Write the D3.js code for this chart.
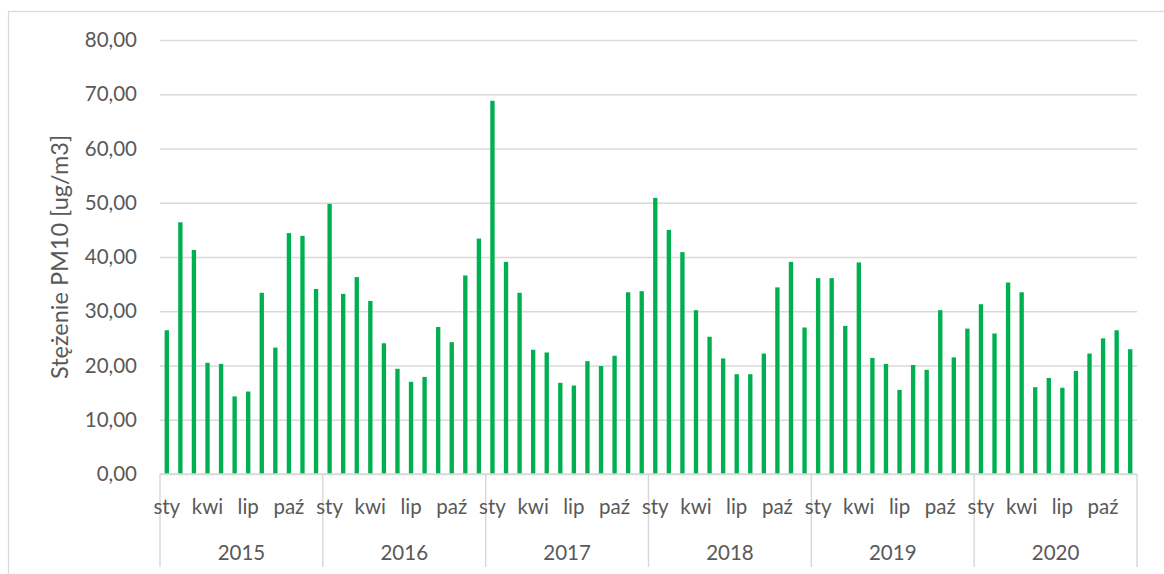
<!DOCTYPE html>
<html>
<head>
<meta charset="utf-8">
<script src="https://cdn.jsdelivr.net/npm/d3@7"></script>
<style>
  body { margin: 0; background: #fff; }
  text { font-family: Lato, "Open Sans", sans-serif; fill: #595959; }
</style>
</head>
<body>
<div id="chart"></div>
<script>
// monthly PM10, 2015..2020
const years = ["2015", "2016", "2017", "2018", "2019", "2020"]
const monthNames = ["sty", "lut", "mar", "kwi", "maj", "cze", "lip", "sie", "wrz", "paź", "lis", "gru"]
const shownMonths = ["sty", "kwi", "lip", "paź"]
const yTicks = [0, 10, 20, 30, 40, 50, 60, 70, 80]

const pm2015 = [26.5, 46.4, 41.3, 20.5, 20.3, 14.3, 15.2, 33.4, 23.3, 44.4, 43.9, 34.1]
const pm2016 = [49.8, 33.2, 36.3, 31.9, 24.1, 19.4, 17.0, 17.9, 27.1, 24.3, 36.6, 43.4]
const pm2017 = [68.8, 39.1, 33.4, 22.9, 22.4, 16.8, 16.3, 20.8, 19.9, 21.8, 33.5, 33.7]
const pm2018 = [50.9, 45.0, 40.9, 30.2, 25.3, 21.3, 18.4, 18.4, 22.2, 34.4, 39.1, 27.0]
const pm2019 = [36.1, 36.1, 27.3, 39.0, 21.4, 20.3, 15.5, 20.1, 19.2, 30.2, 21.5, 26.8]
const pm2020 = [31.3, 25.9, 35.3, 33.5, 16.0, 17.7, 15.9, 19.0, 22.2, 25.0, 26.5, 23.0]

const series = [pm2015, pm2016, pm2017, pm2018, pm2019, pm2020]

const data = []
years.forEach((y, i) => {
    series[i].forEach((v, m) => data.push({ key: y + "-" + m, year: y, month: monthNames[m], value: v }))
})

const width = 1164, height = 574
const margin = ({top: 40, right: 27, bottom: 100, left: 160})
const axisBottom = height - margin.bottom   // 474

const svg = d3.select("#chart").append("svg")
    .attr("width", width)
    .attr("height", height)

// outer frame (right / bottom edges fall off the picture)
svg.append("rect")
    .attr("x", 8.5).attr("y", 11.5)
    .attr("width", 1170).attr("height", 600)
    .attr("fill", "none")
    .attr("stroke", "#d9d9d9")
    .attr("stroke-width", 1.2)

const x = d3.scaleBand()
    .domain(data.map(d => d.key))
    .range([margin.left, width - margin.right])
    .paddingInner(0.68)
    .paddingOuter(0.34)

const xYear = d3.scaleBand()
    .domain(years)
    .range([margin.left, width - margin.right])

const y = d3.scaleLinear()
    .domain([0, 80])
    .range([axisBottom, margin.top])

const fmt = d3.formatLocale({decimal: ",", thousands: " ", grouping: [3], currency: ["", " zł"]}).format(".2f")

// gridlines + y labels
const gy = svg.append("g")
    .attr("transform", `translate(${margin.left},0)`)
    .call(d3.axisLeft(y).tickValues(yTicks).tickFormat(fmt)
        .tickSize(-(width - margin.left - margin.right)).tickPadding(23))
gy.select(".domain").remove()
gy.selectAll(".tick line").attr("stroke", "#d9d9d9").attr("stroke-width", 1.5)
gy.selectAll(".tick text").attr("font-size", 20.5).attr("font-family", null).attr("fill", null)

// bars
svg.append("g").selectAll("rect")
    .data(data)
    .join("rect")
    .attr("x", d => x(d.key))
    .attr("y", d => y(d.value))
    .attr("width", x.bandwidth())
    .attr("height", d => y(0) - y(d.value))
    .attr("fill", "#00b050")

// category axis: baseline + year separators
svg.append("line")
    .attr("x1", margin.left).attr("x2", width - margin.right)
    .attr("y1", axisBottom).attr("y2", axisBottom)
    .attr("stroke", "#d9d9d9").attr("stroke-width", 1.5)

const sepX = years.map(d => xYear(d)).concat([width - margin.right])
svg.append("g").selectAll("line")
    .data(sepX)
    .join("line")
    .attr("x1", d => d).attr("x2", d => d)
    .attr("y1", axisBottom).attr("y2", 567)
    .attr("stroke", "#d9d9d9").attr("stroke-width", 1.5)

// month labels (every 3rd month)
svg.append("g").selectAll("text")
    .data(data.filter(d => shownMonths.includes(d.month)))
    .join("text")
    .attr("x", d => x(d.key) + x.bandwidth() / 2)
    .attr("y", 514)
    .attr("text-anchor", "middle")
    .attr("font-size", 20.5)
    .text(d => d.month)

// year labels
svg.append("g").selectAll("text")
    .data(years)
    .join("text")
    .attr("x", d => xYear(d) + xYear.bandwidth() / 2)
    .attr("y", 560)
    .attr("text-anchor", "middle")
    .attr("font-size", 20.5)
    .text(d => d)

// y axis title
svg.append("text")
    .attr("transform", `translate(68,${(margin.top + axisBottom) / 2}) rotate(-90)`)
    .attr("text-anchor", "middle")
    .attr("font-size", 23.5)
    .text("Stężenie PM10 [ug/m3]")
</script>
</body>
</html>
